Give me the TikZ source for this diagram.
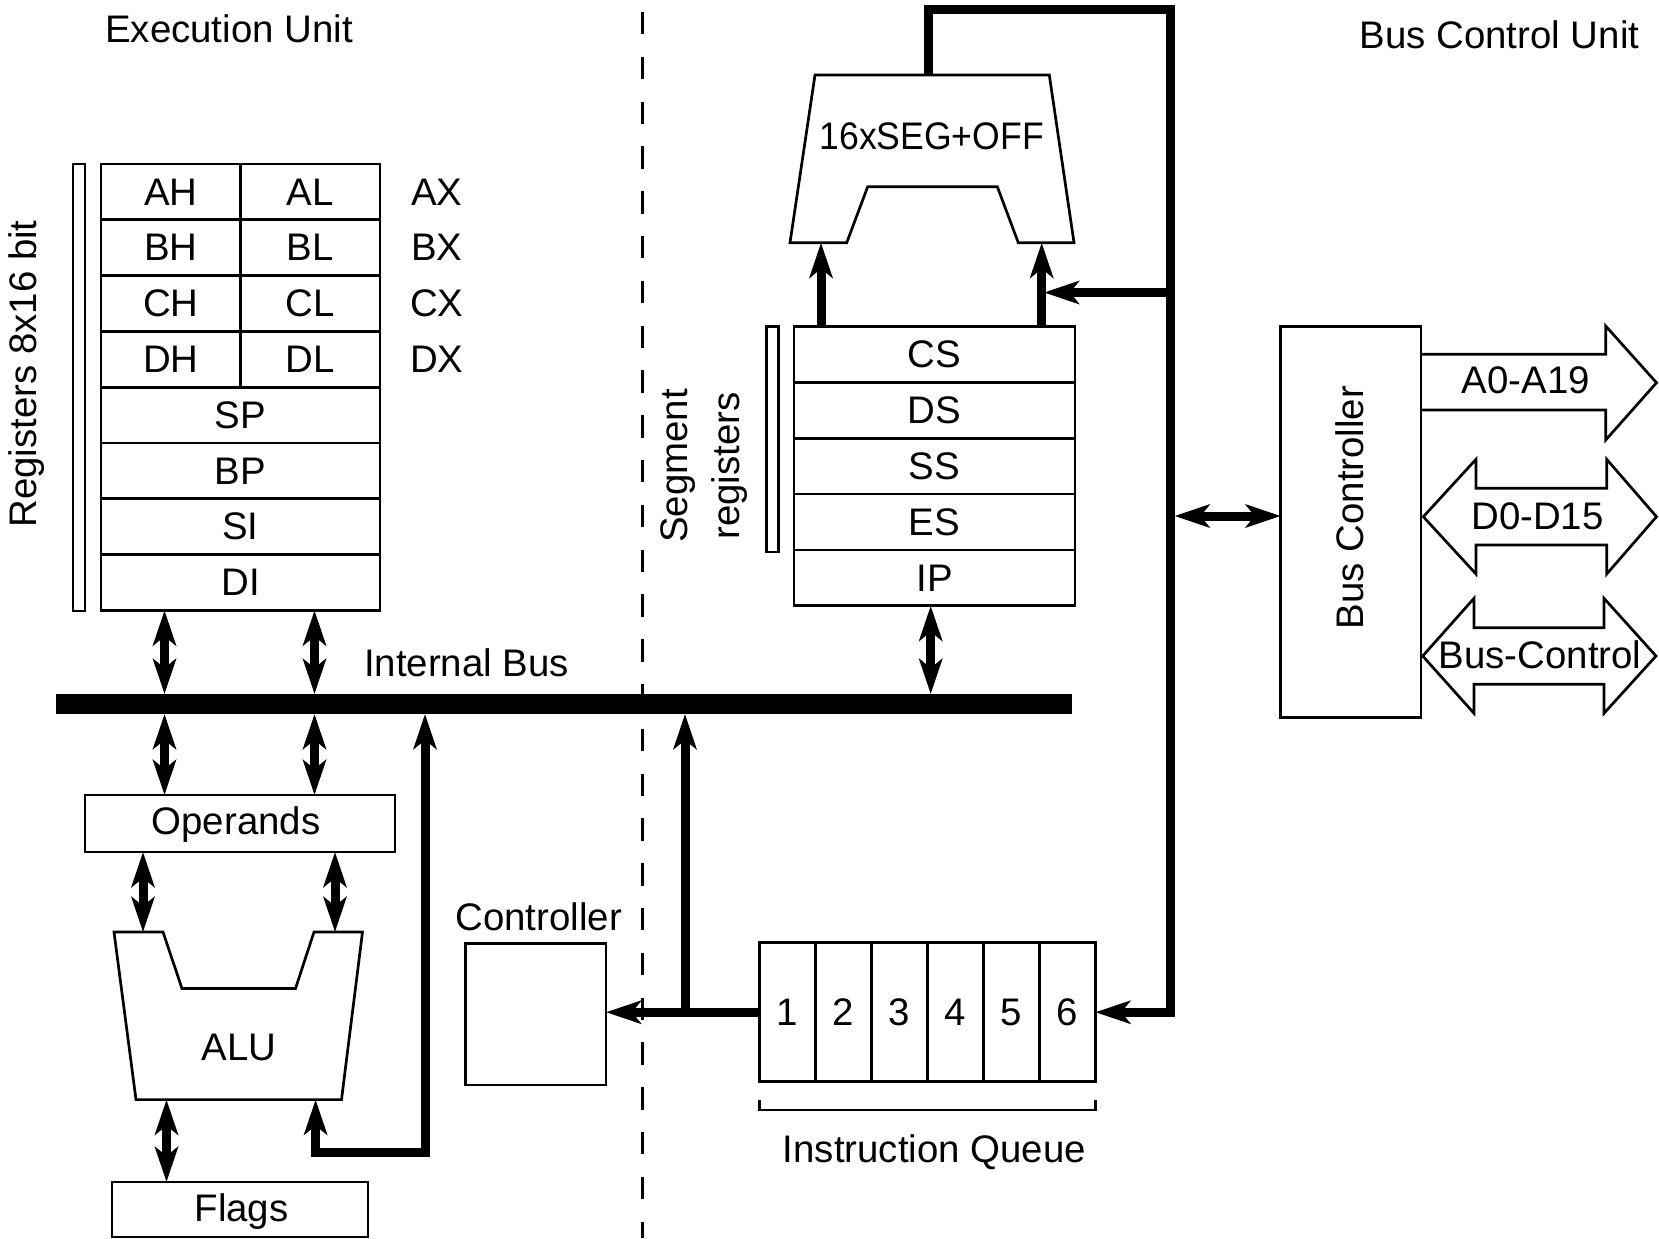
\documentclass[tikz,border=0pt]{standalone}
\usepackage{fontspec}
\setmainfont{Liberation Sans}
\usetikzlibrary{arrows.meta}
\begin{document}
\begin{tikzpicture}[x=0.5pt,y=-0.5pt,
  font=\fontsize{19.2}{23}\selectfont,
  >={Stealth[length=17.5pt,width=11.5pt,inset=4.5pt]},
  box/.style={draw,line width=1.35pt,inner sep=0pt,outer sep=0pt,rectangle},
  half/.style={box,minimum width=69.75pt,minimum height=27.9pt},
  full/.style={box,minimum width=139.5pt,minimum height=27.9pt},
  seg/.style={box,minimum width=140.5pt,minimum height=27.9pt},
  qcell/.style={box,minimum width=28pt,minimum height=69.5pt},
  lbl/.style={inner sep=0pt},
  ln/.style={line width=1.35pt},
  thk/.style={line width=4.5pt},
  bigarrow/.style={draw,line width=1.35pt,line join=miter}
]
\useasboundingbox (0,0) rectangle (1659,1238);

% titles and divider
\node[lbl] (eu) at (229,29) {Execution Unit};
\node[lbl] (bcu) at (1499.5,34.5) {Bus Control Unit};
\draw[line width=1.5pt,dash pattern=on 11.2pt off 11.2pt] (642,12) -- (642,1238);

% general registers
\draw[ln] (73,164) rectangle (85,611);
\node[lbl,rotate=90] (regtxt) at (27,374) {Registers 8x16 bit};
\node[half] (AH) at (170.75,191.9) {AH};
\node[half] (AL) at (310.25,191.9) {AL};
\node[half] (BH) at (170.75,247.7) {BH};
\node[half] (BL) at (310.25,247.7) {BL};
\node[half] (CH) at (170.75,303.5) {CH};
\node[half] (CL) at (310.25,303.5) {CL};
\node[half] (DH) at (170.75,359.3) {DH};
\node[half] (DL) at (310.25,359.3) {DL};
\node[full] (SP) at (240.5,415.1) {SP};
\node[full] (BP) at (240.5,470.9) {BP};
\node[full] (SI) at (240.5,526.7) {SI};
\node[full] (DI) at (240.5,582.5) {DI};
\node[lbl] (AX) at (436.7,191.9) {AX};
\node[lbl] (BX) at (436.7,247.7) {BX};
\node[lbl] (CX) at (436.7,303.5) {CX};
\node[lbl] (DX) at (436.7,359.3) {DX};

% internal bus
\node[fill,inner sep=0pt,outer sep=0pt,minimum width=508.1pt,minimum height=10pt] (bus) at (563.9,704) {};
\node[lbl] (ibus) at (466.5,663) {Internal Bus};

\coordinate (c1) at (164.5,0);
\coordinate (c2) at (314.5,0);
\draw[thk,<->] (c1 |- DI.south) -- (c1 |- bus.north);
\draw[thk,<->] (c2 |- DI.south) -- (c2 |- bus.north);

% operands, ALU, flags
\node[box,minimum width=155pt,minimum height=28.5pt] (ops) at (240,823.5) {};
\node[lbl] (opstxt) at (236,825) {Operands};
\draw[thk,<->] (c1 |- bus.south) -- (c1 |- ops.north);
\draw[thk,<->] (c2 |- bus.south) -- (c2 |- ops.north);

\draw[ln] (114,932) -- (163,932) -- (182,988.5) -- (295.5,988.5) -- (314,932) -- (362.5,932) -- (341.5,1099.6) -- (136,1099.6) -- cycle;
\node[lbl] (alu) at (239,1047) {ALU};
\coordinate (aluL) at (143,932);
\coordinate (aluR) at (335,932);
\draw[thk,<->] (aluL |- ops.south) -- (aluL);
\draw[thk,<->] (aluR |- ops.south) -- (aluR);

\node[box,minimum width=128pt,minimum height=27.5pt] (flags) at (240,1209.5) {};
\node[lbl] (flagstxt) at (241.5,1212) {Flags};
\coordinate (aluB) at (166.5,1099.6);
\draw[thk,<->] (aluB) -- (aluB |- flags.north);

\coordinate (aluIn) at (315.6,1099.6);
\coordinate (aluBus) at (425,1152);
\draw[thk,<->] (aluIn) |- (aluBus) -- (aluBus |- bus.south);

% controller
\node[lbl] (ctrltxt) at (538.6,917) {Controller};
\node[box,minimum width=70.2pt,minimum height=70.6pt] (ctrl) at (535.8,1014.4) {};

% instruction queue
\foreach \i in {1,...,6} {
  \node[qcell] (q\i) at ({731.3+56*\i},1012.2) {\i};
}
\draw[ln] (759.3,1100) |- (1095.3,1110) -- (1095.3,1100);
\node[lbl] (iqtxt) at (934.4,1152) {Instruction Queue};

\coordinate (jn) at (685,1012.2);
\draw[thk,->] (q1.west) -- (q1.west -| ctrl.east);
\draw[thk,->] (jn) -- (jn |- bus.south);

% segment registers
\draw[ln] (766.7,326.7) rectangle (778.7,552);
\node[lbl,rotate=90,align=center,font=\fontsize{19.2}{26}\selectfont] (segtxt) at (704,466) {Segment\\registers};
\node[seg] (CS) at (934.5,354.6) {CS};
\node[seg] (DS) at (934.5,410.4) {DS};
\node[seg] (SS) at (934.5,466.2) {SS};
\node[seg] (ES) at (934.5,522.0) {ES};
\node[seg] (IP) at (934.5,577.8) {IP};
\coordinate (ipx) at (930.7,0);
\draw[thk,<->] (ipx |- IP.south) -- (ipx |- bus.north);

% address adder
\draw[ln] (815,75) -- (1049.3,75) -- (1074,242.7) -- (1018.3,242.7) -- (997.3,186.7) -- (867.7,186.7) -- (846.7,242.7) -- (790,242.7) -- cycle;
\node[lbl,xscale=0.925] (adder) at (931.7,136) {16xSEG+OFF};
\coordinate (adL) at (821,242.7);
\coordinate (adR) at (1041.7,242.7);
\draw[thk,->] (adL |- CS.north) -- (adL);
\draw[thk,->] (adR |- CS.north) -- (adR);

\coordinate (adT) at (928.8,75);
\coordinate (rc) at (1170,9.5);
\draw[thk,->] (adT) |- (rc) |- (q6.east);
\coordinate (br) at (1170,292.5);
\coordinate (brTip) at (1044,292.5);
\draw[thk,->] (br) -- (brTip);

% bus controller
\node[box,minimum width=70.15pt,minimum height=195.3pt] (bc) at (1350.85,522) {};
\node[lbl,rotate=90] (bctxt) at (1350,507.5) {Bus Controller};
\coordinate (bcL) at (1174.5,516);
\draw[thk,<->] (bcL) -- (bcL -| bc.west);

% external buses
\draw[bigarrow] (1421,354.3) -- (1605.7,354.3) -- (1605.7,326) -- (1656.5,382.7) -- (1605.7,440) -- (1605.7,410) -- (1421,410);
\node[lbl] (addr) at (1526,380) {A0-A19};

\draw[bigarrow] (1423.3,516.7) -- (1476,459.3) -- (1476,488.3) -- (1606.7,488.3) -- (1606.7,459.3) -- (1656.5,516.7) -- (1606.7,574) -- (1606.7,545) -- (1476,545) -- (1476,574) -- cycle;
\node[lbl] (data) at (1537.5,516.5) {D0-D15};

\draw[bigarrow] (1422.7,656) -- (1474,598.3) -- (1474,627.7) -- (1604,627.7) -- (1604,598.3) -- (1656,656) -- (1604,713.3) -- (1604,684.3) -- (1474,684.3) -- (1474,713.3) -- cycle;
\node[lbl] (ctl) at (1540,655) {Bus-Control};
\end{tikzpicture}
\end{document}
